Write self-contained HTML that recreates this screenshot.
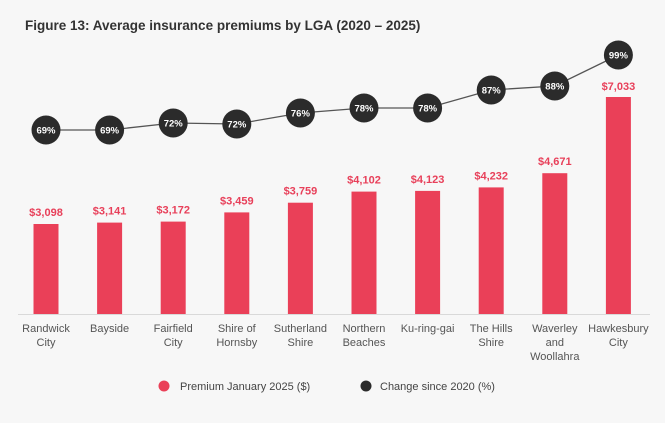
<!DOCTYPE html>
<html><head><style>
body{margin:0;background:#f7f7f7;}
svg{display:block;font-family:"Liberation Sans",Arial,sans-serif;}
</style></head><body>
<svg width="665" height="423" viewBox="0 0 665 423">
<rect width="665" height="423" fill="#f7f7f7"/>
<text x="25" y="30" font-size="13.5" font-weight="bold" fill="#333">Figure 13: Average insurance premiums by LGA (2020 – 2025)</text>
<line x1="18" y1="314.5" x2="650" y2="314.5" stroke="#d9d9d9" stroke-width="1"/>
<g fill="#ea4058">
<rect x="33.5" y="224" width="25" height="90"/>
<rect x="97.1" y="222.6" width="25" height="91.4"/>
<rect x="160.7" y="221.6" width="25" height="92.4"/>
<rect x="224.3" y="212.4" width="25" height="101.6"/>
<rect x="287.9" y="202.7" width="25" height="111.3"/>
<rect x="351.5" y="191.6" width="25" height="122.4"/>
<rect x="415.1" y="190.9" width="25" height="123.1"/>
<rect x="478.7" y="187.4" width="25" height="126.6"/>
<rect x="542.3" y="173.2" width="25" height="140.8"/>
<rect x="605.9" y="97" width="25" height="217"/>
</g>
<g fill="#e8405a" font-size="11" font-weight="bold" text-anchor="middle">
<text x="46" y="216">$3,098</text>
<text x="109.6" y="214.6">$3,141</text>
<text x="173.2" y="213.6">$3,172</text>
<text x="236.8" y="204.4">$3,459</text>
<text x="300.4" y="194.7">$3,759</text>
<text x="364" y="183.6">$4,102</text>
<text x="427.6" y="182.9">$4,123</text>
<text x="491.2" y="179.4">$4,232</text>
<text x="554.8" y="165.2">$4,671</text>
<text x="618.4" y="90">$7,033</text>
</g>
<polyline fill="none" stroke="#555" stroke-width="1.3" points="46,130 109.6,130 173.2,123 236.8,124 300.4,113 364,108 427.6,108 491.2,90 554.8,86 618.4,55"/>
<g fill="#2b2b2b">
<circle cx="46" cy="130" r="14.5"/><circle cx="109.6" cy="130" r="14.5"/><circle cx="173.2" cy="123" r="14.5"/><circle cx="236.8" cy="124" r="14.5"/><circle cx="300.4" cy="113" r="14.5"/><circle cx="364" cy="108" r="14.5"/><circle cx="427.6" cy="108" r="14.5"/><circle cx="491.2" cy="90" r="14.5"/><circle cx="554.8" cy="86" r="14.5"/><circle cx="618.4" cy="55" r="14.5"/>
</g>
<g fill="#fff" font-size="9.5" font-weight="bold" text-anchor="middle">
<text x="46" y="133.5">69%</text><text x="109.6" y="133.5">69%</text><text x="173.2" y="126.5">72%</text><text x="236.8" y="127.5">72%</text><text x="300.4" y="116.5">76%</text><text x="364" y="111.5">78%</text><text x="427.6" y="111.5">78%</text><text x="491.2" y="93.5">87%</text><text x="554.8" y="89.5">88%</text><text x="618.4" y="58.5">99%</text>
</g>
<g fill="#555" font-size="11" text-anchor="middle">
<text x="46" y="332">Randwick</text><text x="46" y="346">City</text>
<text x="109.6" y="332">Bayside</text>
<text x="173.2" y="332">Fairfield</text><text x="173.2" y="346">City</text>
<text x="236.8" y="332">Shire of</text><text x="236.8" y="346">Hornsby</text>
<text x="300.4" y="332">Sutherland</text><text x="300.4" y="346">Shire</text>
<text x="364" y="332">Northern</text><text x="364" y="346">Beaches</text>
<text x="427.6" y="332">Ku-ring-gai</text>
<text x="491.2" y="332">The Hills</text><text x="491.2" y="346">Shire</text>
<text x="554.8" y="332">Waverley</text><text x="554.8" y="346">and</text><text x="554.8" y="360">Woollahra</text>
<text x="618.4" y="332">Hawkesbury</text><text x="618.4" y="346">City</text>
</g>
<circle cx="164" cy="386" r="5.5" fill="#ea4058"/>
<text x="180" y="390" font-size="11" fill="#444">Premium January 2025 ($)</text>
<circle cx="366" cy="386" r="5.5" fill="#2b2b2b"/>
<text x="380" y="390" font-size="11" fill="#444">Change since 2020 (%)</text>
</svg>
</body></html>
